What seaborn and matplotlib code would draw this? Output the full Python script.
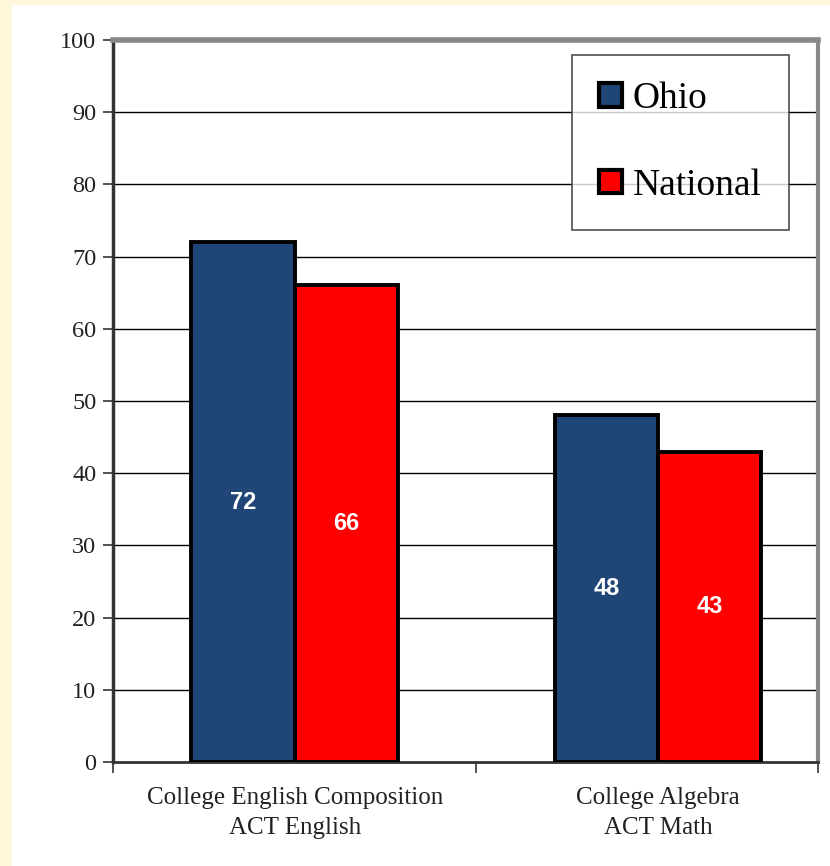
import matplotlib
matplotlib.use("Agg")
import matplotlib.pyplot as plt
import seaborn as sns
import pandas as pd
from matplotlib.patches import Rectangle, Patch

categories = ["College English Composition\nACT English", "College Algebra\nACT Math"]
series = ["Ohio", "National"]
ohio_values = [72, 48]
national_values = [66, 43]
y_ticks = [0, 10, 20, 30, 40, 50, 60, 70, 80, 90, 100]

rows = []
for c, o, n in zip(categories, ohio_values, national_values):
    rows.append({"cat": c, "series": "Ohio", "value": o})
    rows.append({"cat": c, "series": "National", "value": n})
df = pd.DataFrame(rows)

W, H = 830, 866
fig = plt.figure(figsize=(W / 100, H / 100), dpi=100)
fig.patch.set_facecolor("#FFF7D9")
fig.patches.append(Rectangle((12 / W, 0), 1 - 12 / W, (H - 5) / H, transform=fig.transFigure,
                             facecolor="white", edgecolor="none", zorder=-10))

ax = fig.add_axes([113 / W, 1 - 762 / H, (818 - 113) / W, (762 - 40) / H])
ax.set_facecolor("white")

palette = {"Ohio": "#1F4677", "National": "#FF0000"}
sns.barplot(data=df, x="cat", y="value", hue="series", hue_order=series, order=categories,
            palette=palette, width=0.568, edgecolor="black", linewidth=2.8, saturation=1,
            ax=ax, legend=False, zorder=3)

ax.set_ylim(0, 100)
ax.set_xlim(-0.5, 1.44)
ax.set_yticks(y_ticks)
for t in y_ticks[1:-1]:
    ax.axhline(t, color="black", linewidth=1, zorder=1)

serif = ["Liberation Serif", "DejaVu Serif"]
ax.set_yticklabels([str(t) for t in y_ticks], fontsize=17.5, family=serif, color="#222222")
ax.tick_params(axis="y", direction="out", length=7, width=1.2, color="#333333", pad=5)

ax.set_xticks([-0.5, 0.5, 1.44])
ax.set_xticklabels([])
ax.tick_params(axis="x", direction="out", length=8, width=1.2, color="#333333")
for i, c in enumerate(categories):
    ax.text(i, -3.5, c, ha="center", va="top", fontsize=18, family=serif,
            color="#222222", linespacing=1.45)
ax.set_xlabel("")
ax.set_ylabel("")

for side in ["top", "right"]:
    ax.spines[side].set_color("#888888")
    ax.spines[side].set_linewidth(3)
ax.spines["top"].set_linewidth(4)
ax.spines["left"].set_color("#333333")
ax.spines["left"].set_linewidth(2.5)
ax.spines["bottom"].set_color("#333333")
ax.spines["bottom"].set_linewidth(2)

for container in ax.containers:
    for bar in container:
        h = bar.get_height()
        ax.text(bar.get_x() + bar.get_width() / 2, h / 2, f"{int(round(h))}",
                ha="center", va="center", color="white", fontsize=17, fontweight="bold",
                family=["Liberation Sans", "DejaVu Sans"], zorder=5)

handles = [Patch(facecolor=palette[s], edgecolor="black", linewidth=3) for s in series]
leg = ax.legend(handles, series, loc="upper left",
                bbox_to_anchor=((572 - 113) / (818 - 113), 1 - (55 - 40) / (762 - 40)),
                prop={"family": serif, "size": 27}, frameon=True, fancybox=False,
                edgecolor="#333333", handlelength=0.6, handleheight=0.6, labelspacing=1.38,
                borderpad=0.72, handletextpad=0.3, borderaxespad=0)
leg.get_frame().set_linewidth(1.3)
leg.set_zorder(6)

fig.savefig("out.png", dpi=100, facecolor=fig.get_facecolor())
